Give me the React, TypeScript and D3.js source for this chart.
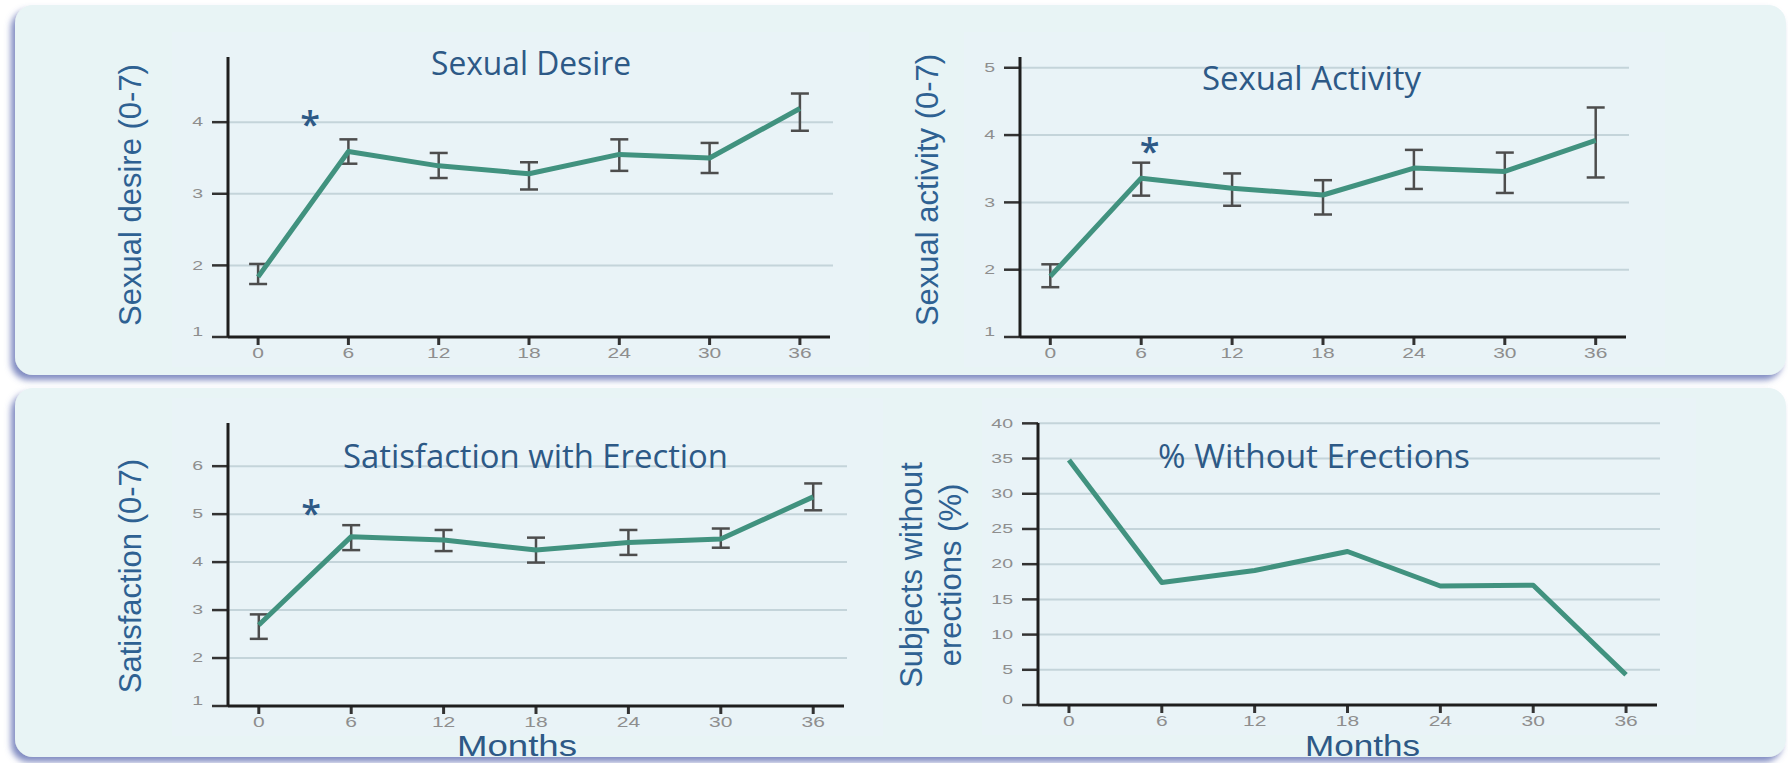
import React from "react";
import * as d3 from "d3";

// months on the x axis, shared by all four panels
const months = [0, 6, 12, 18, 24, 30, 36];
const monthTicks = ["0", "6", "12", "18", "24", "30", "36"];

const desireMean = [1.84, 3.59, 3.39, 3.28, 3.55, 3.5, 4.19];
const desireLow = [1.74, 3.42, 3.22, 3.06, 3.32, 3.29, 3.88];
const desireHigh = [2.02, 3.76, 3.57, 3.44, 3.76, 3.71, 4.4];

const activityMean = [1.9, 3.36, 3.21, 3.11, 3.51, 3.46, 3.92];
const activityLow = [1.74, 3.1, 2.95, 2.82, 3.2, 3.14, 3.37];
const activityHigh = [2.08, 3.59, 3.43, 3.33, 3.78, 3.74, 4.41];

const satisfactionMean = [2.69, 4.53, 4.46, 4.25, 4.41, 4.48, 5.36];
const satisfactionLow = [2.4, 4.25, 4.23, 3.99, 4.15, 4.3, 5.08];
const satisfactionHigh = [2.91, 4.77, 4.67, 4.51, 4.67, 4.7, 5.64];

const withoutErections = [34.8, 17.4, 19.1, 21.8, 16.9, 17.0, 4.3];

const desireTicks = [1, 2, 3, 4];
const activityTicks = [1, 2, 3, 4, 5];
const satisfactionTicks = [1, 2, 3, 4, 5, 6];
const withoutTicks = [0, 5, 10, 15, 20, 25, 30, 35, 40];

// asterisk markers: [month, value]
const desireStar = [3.45, 4.07];
const activityStar = [6.55, 3.87];
const satisfactionStar = [3.4, 5.17];

const LINE = "#41927f";
const TITLE = "#2d5986";
const YLAB = "#2e6192";

const panels = [
  {
    left: 228, right: 830, top: 57, bottom: 337, yDomain: [1, 4.91],
    mean: desireMean, low: desireLow, high: desireHigh, ticks: desireTicks, star: desireStar,
    title: "Sexual Desire", tx: 431, tw: 200, ty: 75,
    ylab: ["Sexual desire (0-7)"], ylx: [141], yly: 195,
  },
  {
    left: 1020, right: 1626, top: 57, bottom: 337, yDomain: [1, 5.16],
    mean: activityMean, low: activityLow, high: activityHigh, ticks: activityTicks, star: activityStar,
    title: "Sexual Activity", tx: 1202, tw: 219, ty: 90,
    ylab: ["Sexual activity (0-7)"], ylx: [938], yly: 190,
  },
  {
    left: 228, right: 844, top: 423, bottom: 706, yDomain: [1, 6.9],
    mean: satisfactionMean, low: satisfactionLow, high: satisfactionHigh, ticks: satisfactionTicks, star: satisfactionStar,
    title: "Satisfaction with Erection", tx: 343, tw: 385, ty: 468,
    ylab: ["Satisfaction (0-7)"], ylx: [141], yly: 576,
    xlab: "Months", xlx: 457, xlw: 120,
  },
  {
    left: 1038, right: 1657, top: 423, bottom: 705, yDomain: [0, 40.05],
    mean: withoutErections, ticks: withoutTicks,
    title: "% Without Erections", tx: 1158, tw: 312, ty: 468,
    ylab: ["Subjects without", "erections (%)"], ylx: [922, 961], yly: 575,
    xlab: "Months", xlx: 1305, xlw: 115,
  },
];

function Panel({ p }) {
  const x = d3.scaleLinear().domain([-2, 38]).range([p.left, p.right]);
  const y = d3.scaleLinear().domain(p.yDomain).range([p.bottom, p.top]);
  const line = d3.line<number>().x((d, i) => x(months[i])).y(d => y(d));
  const minTick = p.ticks[0];

  return (
    <g>
      {/* faint backdrop of the pasted plot image */}
      <rect x={p.left - 56} y={p.top - 25} width={p.right - p.left + 95} height={p.bottom - p.top + 55}
        fill="#eaf2f8" opacity={0.7} />
      {/* grid */}
      {p.ticks.filter(t => t !== minTick).map(t => (
        <line key={"g" + t} x1={p.left} x2={p.right + 3} y1={y(t)} y2={y(t)} stroke="#c4d4da" strokeWidth={2} />
      ))}
      {/* y ticks + labels */}
      {p.ticks.map((t, i) => (
        <g key={"y" + t}>
          <line x1={p.left - 16} x2={p.left} y1={y(t)} y2={y(t)} stroke="#333" strokeWidth={2.5} />
          <text
            transform={`translate(${p.left - 25},${y(t) - (i === 0 ? 5 : 0)}) scale(1.5,1)`}
            textAnchor="end" dominantBaseline="central" fontSize={13}
            fontFamily="Liberation Sans, Arial, sans-serif" fill="#8e8e8e">{t}</text>
        </g>
      ))}
      {/* x ticks + labels */}
      {months.map((m, i) => (
        <g key={"x" + m}>
          <line x1={x(m)} x2={x(m)} y1={p.bottom} y2={p.bottom + 8} stroke="#333" strokeWidth={3} />
          <text transform={`translate(${x(m)},${p.bottom + 21}) scale(1.5,1)`} textAnchor="middle"
            fontSize={14} fontFamily="Liberation Sans, Arial, sans-serif" fill="#8e8e8e">{monthTicks[i]}</text>
        </g>
      ))}
      {/* axes */}
      <line x1={p.left} x2={p.left} y1={p.top} y2={p.bottom} stroke="#1e1e1e" strokeWidth={3} />
      <line x1={p.left} x2={p.right} y1={p.bottom} y2={p.bottom} stroke="#1e1e1e" strokeWidth={3} />
      {/* error bars */}
      {p.low && months.map((m, i) => (
        <g key={"e" + m} stroke="#4d4d4d" strokeWidth={2.5}>
          <line x1={x(m)} x2={x(m)} y1={y(p.low[i])} y2={y(p.high[i])} />
          <line x1={x(m) - 9} x2={x(m) + 9} y1={y(p.low[i])} y2={y(p.low[i])} />
          <line x1={x(m) - 9} x2={x(m) + 9} y1={y(p.high[i])} y2={y(p.high[i])} />
        </g>
      ))}
      <path d={line(p.mean)} fill="none" stroke={LINE} strokeWidth={5} strokeLinejoin="round" />
      {p.star && (
        <text x={x(p.star[0])} y={y(p.star[1]) + 20} textAnchor="middle" fontSize={36} fontWeight={600}
          fontFamily="Open Sans, sans-serif" fill={TITLE}>*</text>
      )}
      {/* title */}
      <text x={p.tx} y={p.ty} fontSize={33} fontFamily="Open Sans, sans-serif" fill={TITLE}
        textLength={p.tw} lengthAdjust="spacingAndGlyphs">{p.title}</text>
      {p.xlab && (
        <text x={p.xlx} y={756} fontSize={29} fontFamily="Liberation Sans, Arial, sans-serif" fill={TITLE}
          textLength={p.xlw} lengthAdjust="spacingAndGlyphs">{p.xlab}</text>
      )}
      {p.ylab.map((s, i) => (
        <text key={s} transform={`translate(${p.ylx[i]},${p.yly}) rotate(-90)`} textAnchor="middle"
          fontSize={31} fontFamily="Liberation Sans, Arial, sans-serif" fill={YLAB}>{s}</text>
      ))}
    </g>
  );
}

export default function App() {
  return (
    <div style={{ position: "absolute", left: 0, top: 0 }}>
      <svg width={1788} height={763} style={{ display: "block", background: "#fff" }}>
        <defs>
          <filter id="sh" x="-5%" y="-10%" width="110%" height="125%">
            <feDropShadow dx={-4} dy={5} stdDeviation={3} floodColor="#5666ad" floodOpacity={0.75} />
          </filter>
        </defs>
        <rect x={15} y={5} width={1771} height={370} rx={18} fill="#e8f4f5" filter="url(#sh)" />
        <rect x={15} y={388} width={1771} height={369} rx={18} fill="#e8f4f5" filter="url(#sh)" />
        {panels.map((p, i) => <Panel key={i} p={p} />)}
      </svg>
    </div>
  );
}
